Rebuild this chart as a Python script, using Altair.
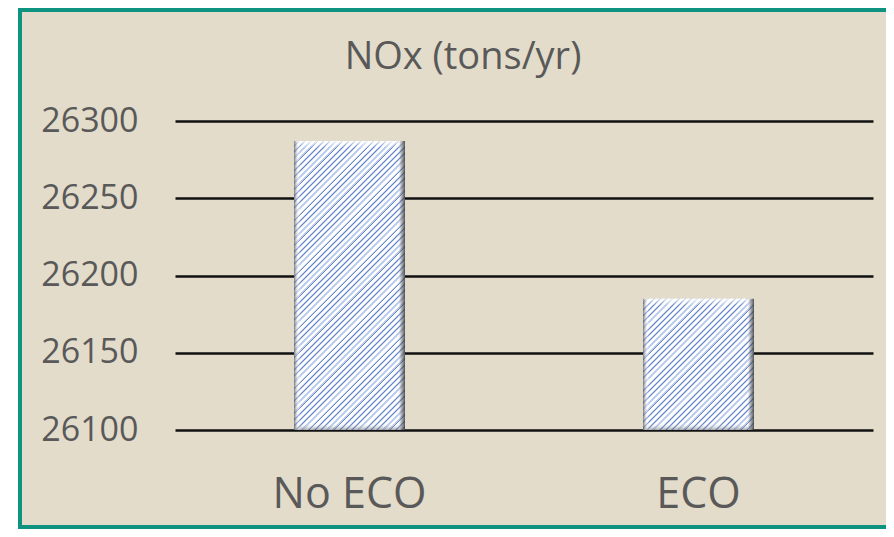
import math
import altair as alt
import pandas as pd

categories = ["No ECO", "ECO"]
nox_values = [26287, 26185]
y_ticks = [26100, 26150, 26200, 26250, 26300]
title_text = "NOx (tons/yr)"

df = pd.DataFrame({"scenario": categories, "nox": nox_values})

W, H = 698, 309
PAD_L, PAD_T = 167, 113
PAD_R = 878 - PAD_L - W
PAD_B = 521 - PAD_T - H
P_INNER, P_OUTER = 0.682, 0.341

FONT = "Open Sans"
TXT = "#595959"
BEIGE = "#E4DCCA"

one = pd.DataFrame({"k": [0]})
title_df = pd.DataFrame({"t": [title_text]})

X_SCALE = alt.Scale(domain=categories, paddingInner=P_INNER, paddingOuter=P_OUTER)
Y_SCALE = alt.Scale(domain=[y_ticks[0], y_ticks[-1]], zero=False, nice=False)


def stripe_fill(w, h, period=4.4):
    t = (w + h) / (w * w + h * h)
    n = (w + h) / math.sqrt(2) / period
    segs = [(0.0, 0.52, "#FFFFFF"), (0.52, 0.74, "#BCCDEE"),
            (0.74, 0.87, "#6684C4"), (0.87, 1.0, "#C4D3F0")]
    stops = []
    k = 0
    while k / n < 1:
        for s0, s1, c in segs:
            o0 = min(1.0, (k + s0) / n)
            o1 = min(1.0, (k + s1) / n)
            stops.append(alt.GradientStop(color=c, offset=round(o0, 5)))
            stops.append(alt.GradientStop(color=c, offset=round(o1, 5)))
        k += 1
    return alt.Gradient(gradient="linear", x1=0, y1=0, x2=w * t, y2=h * t, stops=stops)


def side_bevel(w):
    e = 7 / w
    return alt.Gradient(
        gradient="linear", x1=0, y1=0, x2=1, y2=0,
        stops=[
            alt.GradientStop(color="rgba(70,72,80,0.7)", offset=0),
            alt.GradientStop(color="rgba(255,255,255,0.35)", offset=e * 0.6),
            alt.GradientStop(color="rgba(255,255,255,0)", offset=e),
            alt.GradientStop(color="rgba(255,255,255,0)", offset=1 - e),
            alt.GradientStop(color="rgba(90,90,95,0.35)", offset=1 - e * 0.6),
            alt.GradientStop(color="rgba(50,52,58,0.85)", offset=1),
        ],
    )


def top_bottom_bevel(h):
    e = 7 / h
    return alt.Gradient(
        gradient="linear", x1=0, y1=0, x2=0, y2=1,
        stops=[
            alt.GradientStop(color="rgba(255,255,255,0.8)", offset=0),
            alt.GradientStop(color="rgba(255,255,255,0)", offset=e),
            alt.GradientStop(color="rgba(255,255,255,0)", offset=1 - e),
            alt.GradientStop(color="rgba(80,82,90,0.5)", offset=1),
        ],
    )


step = W / (len(categories) - P_INNER + 2 * P_OUTER)
bw = step * (1 - P_INNER)

base = alt.Chart(df).encode(
    x=alt.X(
        "scenario:N",
        sort=categories,
        scale=X_SCALE,
        axis=alt.Axis(
            title=None, labelAngle=0, labelFontSize=43, labelColor=TXT, labelFont=FONT,
            labelPadding=43, domain=False, ticks=False, grid=False,
        ),
    ),
    y=alt.Y(
        "nox:Q",
        scale=Y_SCALE,
        axis=alt.Axis(
            title=None, values=y_ticks, labelFontSize=34, labelColor=TXT, labelFont=FONT,
            labelPadding=37, domain=False, ticks=False, grid=True,
            gridColor="#111111", gridWidth=2.5, format="d",
        ),
    ),
    y2=alt.datum(y_ticks[0]),
)

bar_layers = []
for cat, val in zip(categories, nox_values):
    bh = (val - y_ticks[0]) / (y_ticks[-1] - y_ticks[0]) * H
    sub = base.transform_filter(alt.datum.scenario == cat)
    bar_layers.append(sub.mark_bar(fill=stripe_fill(bw, bh)))
    bar_layers.append(sub.mark_bar(fill=top_bottom_bevel(bh)))
    bar_layers.append(sub.mark_bar(fill=side_bevel(bw)))

white_strip = alt.Chart(one).mark_rect(fill="white").encode(
    x=alt.value(-168), x2=alt.value(-156), y=alt.value(-114), y2=alt.value(420)
)

border = alt.Chart(one).mark_rect(
    fill="white", fillOpacity=0, stroke="#0F9381", strokeWidth=4
).encode(
    x=alt.value(-155), x2=alt.value(760), y=alt.value(-111), y2=alt.value(406)
)

title = alt.Chart(title_df).mark_text(
    font=FONT, fontSize=38, color=TXT, align="center", baseline="alphabetic"
).encode(x=alt.value(288), y=alt.value(-52), text="t:N")

chart = alt.layer(*bar_layers, white_strip, border, title).properties(
    width=W,
    height=H,
    padding={"left": PAD_L, "top": PAD_T, "right": PAD_R, "bottom": PAD_B},
    autosize=alt.AutoSizeParams(type="none"),
    background=BEIGE,
).configure_view(stroke=None)

chart.save("out.html", embed_options={"renderer": "svg", "actions": False})
